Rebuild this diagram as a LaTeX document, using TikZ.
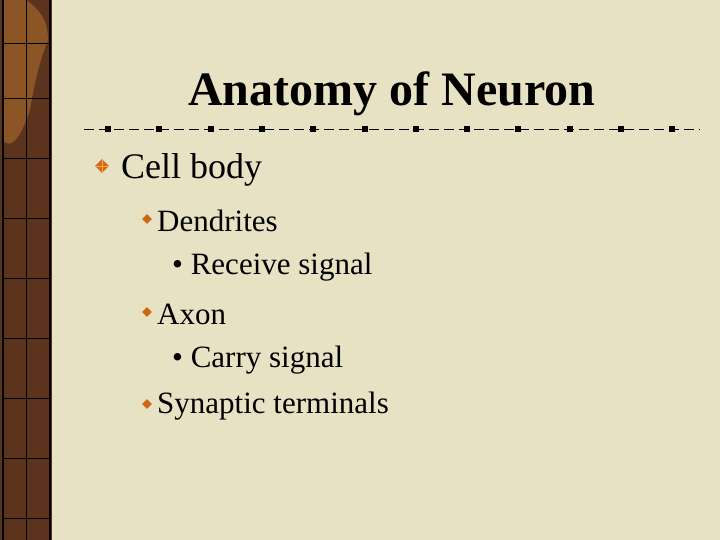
\documentclass[tikz,border=0pt]{standalone}
\usepackage{fontspec}
\setmainfont{Liberation Serif}
\usetikzlibrary{shapes.geometric}
\definecolor{paper}{RGB}{232,226,196}
\definecolor{stripe}{RGB}{92,52,30}
\definecolor{stripelight}{RGB}{160,100,40}
\definecolor{bulc}{RGB}{205,105,20}
\begin{document}
\begin{tikzpicture}[x=1pt,y=-1pt,
  txt/.style={anchor=west,inner sep=0pt,text=black},
  bul/.style={diamond,fill=bulc,inner sep=0pt,minimum size=10pt}]
\useasboundingbox (0,0) rectangle (720,540);
\fill[paper] (0,0) rectangle (720,540);
\fill[stripe] (0,0) rectangle (52,540);
\fill[stripelight,opacity=0.7] (3,0) -- (26,0) .. controls (40,10) and (48,20) .. (48,40) .. controls (40,60) and (35,80) .. (30,110) .. controls (20,140) and (10,150) .. (3,140) -- cycle;
\draw[line width=1.5pt] (3,0) -- (3,540) (50,0) -- (50,540);
\draw[line width=0.7pt] (26,0) -- (26,540);
\foreach \y in {43,98,158,218,278,338,398,458,518} \draw[line width=0.7pt] (3,\y) -- (50,\y);
\draw[dash pattern=on 10pt off 5pt] (84,129) -- (700,129);
\foreach \i in {0,...,11} \fill (108+\i*51.3-3,126) rectangle +(6,6);
\node[txt,font=\bfseries\fontsize{48}{48}\selectfont] (t) at (188,94) {Anatomy of Neuron};
\node[diamond,fill=brown!80!red,inner sep=0pt,minimum size=14pt] (b0) at (102,166) {};
\draw[orange!60!yellow,line width=0.8pt] (b0.west)--(b0.east) (b0.north)--(b0.south);
\node[txt,font=\fontsize{36}{36}\selectfont] (c) at (121,170) {Cell body};
\node[bul] (b1) at (147,219) {};
\node[txt,font=\fontsize{31}{31}\selectfont] (d) at (157,221) {Dendrites};
\node[txt,font=\fontsize{31}{31}\selectfont] (r) at (172,267) {\textbullet\ Receive signal};
\node[bul] (b2) at (147,312) {};
\node[txt,font=\fontsize{31}{31}\selectfont] (a) at (157,314) {Axon};
\node[txt,font=\fontsize{31}{31}\selectfont] (cs) at (172,360) {\textbullet\ Carry signal};
\node[bul] (b3) at (147,404) {};
\node[txt,font=\fontsize{31}{31}\selectfont] (s) at (157,406) {Synaptic terminals};
\end{tikzpicture}
\end{document}
